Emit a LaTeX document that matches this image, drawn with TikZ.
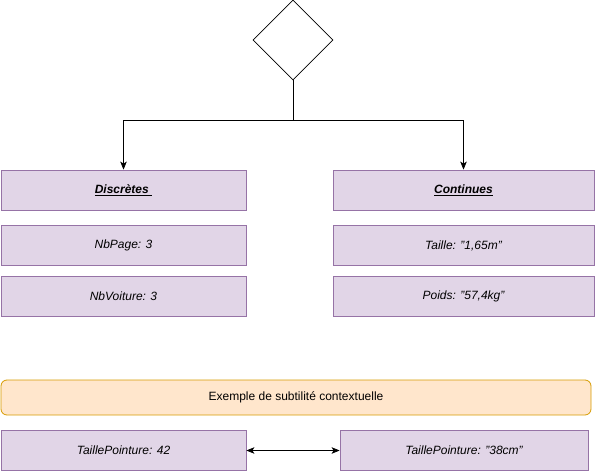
\documentclass[tikz,border=0pt]{standalone}
\usepackage{fontspec}
\setmainfont{Liberation Sans}
\usepackage{tikz}
\usetikzlibrary{calc,shapes,shapes.geometric,positioning,arrows.meta}

\definecolor{lilas}{HTML}{E1D5E7}
\definecolor{lilasb}{HTML}{9673A6}
\definecolor{peche}{HTML}{FFE6CC}
\definecolor{pecheb}{HTML}{D79B00}
\newcommand{\qd}{\symbol{34}}

\begin{document}
\begin{tikzpicture}[x=1pt,y=-1pt,->,>={Stealth[length=8pt,width=6.5pt,inset=2pt]},line width=0.8pt,
    var/.style={draw=lilasb,fill=lilas,minimum width=245pt,minimum height=40pt,
      inner sep=0pt,font=\fontsize{12}{14}\selectfont\itshape},
    titre/.style={var,font=\fontsize{12}{14}\selectfont\bfseries\itshape},
    note/.style={draw=pecheb,fill=peche,rounded corners=6pt,minimum width=590pt,
      minimum height=35pt,inner sep=0pt,font=\fontsize{12}{14}\selectfont}]
      \useasboundingbox (0,0) rectangle (595,471);
      \node [diamond,draw=black,minimum width=80pt,minimum height=80pt,inner sep=0pt] (d0) at (293,40) {};
      \node [titre] (disc) at (123.5,190) {\underline{Discrètes\ }};
      \node [var] (nbp) [below=15pt of disc] {NbPage: 3};
      \node [var] (nbv) [below=10pt of nbp] {NbVoiture: 3};
      \node [titre,minimum width=261pt] (cont) at (463.5,190) {\underline{Continues}};
      \node [var,minimum width=261pt] (tai) [below=15pt of cont] {Taille: \qd1,65m\qd};
      \node [var,minimum width=261pt] (poi) [below=10pt of tai] {Poids: \qd57,4kg\qd};
      \node [note] (ex) at (296,397.5) {Exemple de subtilité contextuelle};
      \node [var] (tp0) at (123.5,450.5) {TaillePointure: 42};
      \node [var,minimum width=248pt] (tp1) at (464,450.5) {TaillePointure: \qd38cm\qd};
      \coordinate (j) at (293,120);
      \draw[-] (d0.south) -- (j);
      \draw (j) -| (disc);
      \draw (j) -| (cont);
      \draw[<->] (tp0) -- (tp1);
\end{tikzpicture}
\end{document}
